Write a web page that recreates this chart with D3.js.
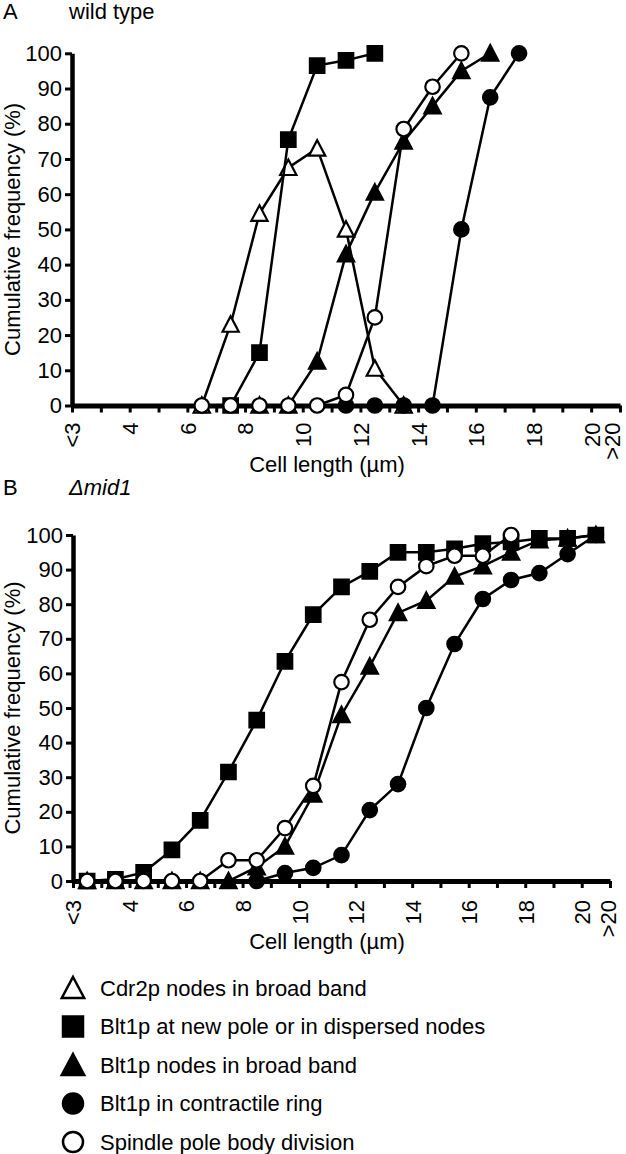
<!DOCTYPE html>
<html><head><meta charset="utf-8">
<script src="https://cdn.jsdelivr.net/npm/d3@7/dist/d3.min.js"></script>
<style>
body{margin:0;background:#fff}
text{font-family:"Liberation Sans",Arial,Helvetica,sans-serif;fill:#000}
</style>
</head><body>
<svg id="chart" width="626" height="1154"></svg>
<script>
// ---------- data ----------
const xTickLabelPos = [2, 4, 6, 8, 10, 12, 14, 16, 18, 20, 21];
const xTickLabels = ["<3", "4", "6", "8", "10", "12", "14", "16", "18", "20", ">20"];
const yTicks = [0, 10, 20, 30, 40, 50, 60, 70, 80, 90, 100];

const seriesNames = [
  "Cdr2p nodes in broad band",
  "Blt1p at new pole or in dispersed nodes",
  "Blt1p nodes in broad band",
  "Blt1p in contractile ring",
  "Spindle pole body division"
];

// Panel A: wild type
const wtCdr2pX = [6.5, 7.5, 8.5, 9.5, 10.5, 11.5, 12.5, 13.5];
const wtCdr2pY = [0, 23, 54.5, 67.5, 73, 50, 10.5, 0];
const wtPoleX = [7.5, 8.5, 9.5, 10.5, 11.5, 12.5];
const wtPoleY = [0, 15, 75.5, 96.5, 98, 100];
const wtBandX = [8.5, 9.5, 10.5, 11.5, 12.5, 13.5, 14.5, 15.5, 16.5];
const wtBandY = [0, 0, 12.5, 43, 60.5, 75, 85, 95, 100];
const wtRingX = [11.5, 12.5, 13.5, 14.5, 15.5, 16.5, 17.5];
const wtRingY = [0, 0, 0, 0, 50, 87.5, 100];
const wtSpbX = [6.5, 7.5, 8.5, 9.5, 10.5, 11.5, 12.5, 13.5, 14.5, 15.5];
const wtSpbY = [0, 0, 0, 0, 0, 3, 25, 78.5, 90.5, 100];

// Panel B: delta mid1
const mid1PoleX = [2.5, 3.5, 4.5, 5.5, 6.5, 7.5, 8.5, 9.5, 10.5, 11.5, 12.5, 13.5, 14.5, 15.5, 16.5, 17.5, 18.5, 19.5, 20.5];
const mid1PoleY = [0, 0.5, 2.5, 9, 17.5, 31.5, 46.5, 63.5, 77, 85, 89.5, 95, 95, 96, 97.5, 98, 99, 99, 100];
const mid1BandX = [2.5, 3.5, 4.5, 5.5, 6.5, 7.5, 8.5, 9.5, 10.5, 11.5, 12.5, 13.5, 14.5, 15.5, 16.5, 17.5, 18.5, 19.5, 20.5];
const mid1BandY = [0, 0, 0, 0, 0, 0, 4, 10, 25, 48, 62, 77.5, 81, 88, 91, 95, 98.5, 99, 100];
const mid1RingX = [8.5, 9.5, 10.5, 11.5, 12.5, 13.5, 14.5, 15.5, 16.5, 17.5, 18.5, 19.5, 20.5];
const mid1RingY = [0, 2.3, 3.8, 7.5, 20.5, 28, 50, 68.5, 81.5, 87, 89, 94.5, 100];
const mid1SpbX = [2.5, 3.5, 4.5, 5.5, 6.5, 7.5, 8.5, 9.5, 10.5, 11.5, 12.5, 13.5, 14.5, 15.5, 16.5, 17.5];
const mid1SpbY = [0, 0, 0, 0, 0, 6, 6, 15.3, 27.5, 57.5, 75.5, 85, 91, 94, 94, 100];

// ---------- styles ----------
const markerStyle = [
  {shape: "triangle", fill: "#fff"},
  {shape: "square", fill: "#000"},
  {shape: "triangle", fill: "#000"},
  {shape: "circle", fill: "#000"},
  {shape: "circle", fill: "#fff"}
];

const svg = d3.select("#chart");
const FS = 22;

function markerPath(shape, s) {
  const p = d3.path();
  if (shape === "square") {
    p.rect(-s / 2, -s / 2, s, s);
  } else if (shape === "circle") {
    p.arc(0, 0, s / 2, 0, Math.PI * 2);
  } else {
    const w = s * 1.12, h = s * 1.0;
    p.moveTo(0, -h / 2 - 1);
    p.lineTo(w / 2, h / 2);
    p.lineTo(-w / 2, h / 2);
    p.closePath();
  }
  return p.toString();
}

function drawPanel(cfg) {
  const x = d3.scaleLinear().domain([2, 21]).range([cfg.left, cfg.right]);
  const y = d3.scaleLinear().domain([0, 100]).range([cfg.bottom, cfg.top]);
  const g = svg.append("g");

  // y axis
  const ya = g.append("g").attr("transform", `translate(${cfg.left},0)`)
    .call(d3.axisLeft(y).tickValues(yTicks).tickSize(7).tickSizeOuter(0).tickPadding(3));
  ya.select(".domain").attr("stroke", "#000").attr("stroke-width", 4.5);
  ya.selectAll(".tick line").attr("stroke", "#000").attr("stroke-width", 3);
  ya.selectAll(".tick text").style("font-size", FS + "px").attr("fill", "#000");

  // x axis
  const labelMap = new Map(xTickLabelPos.map((v, i) => [v, xTickLabels[i]]));
  const xa = g.append("g").attr("transform", `translate(0,${cfg.bottom})`)
    .call(d3.axisBottom(x).tickValues(d3.range(2, 22)).tickSize(7).tickSizeOuter(0)
      .tickFormat(d => labelMap.get(d) || ""));
  xa.select(".domain").attr("stroke", "#000").attr("stroke-width", 5);
  xa.selectAll(".tick line").attr("stroke", "#000").attr("stroke-width", 3);
  xa.selectAll(".tick text")
    .style("font-size", FS + "px")
    .attr("fill", "#000")
    .attr("y", null).attr("x", null).attr("dy", "0.36em")
    .attr("text-anchor", "end")
    .attr("transform", d => `translate(${d === 21 ? cfg.lastShift : 0},${cfg.labelOff}) rotate(-90)`);

  // axis titles
  g.append("text").attr("transform", `translate(${cfg.yLabelX},${(cfg.top + cfg.bottom) / 2}) rotate(-90)`)
    .attr("text-anchor", "middle").attr("dominant-baseline", "central")
    .style("font-size", FS + "px").text("Cumulative frequency (%)");
  g.append("text").attr("x", cfg.xTitleX).attr("y", cfg.xTitleY)
    .attr("text-anchor", "middle").style("font-size", FS + "px").text("Cell length (\u00b5m)");

  // panel letter + title
  g.append("text").attr("x", 3).attr("y", cfg.titleY).style("font-size", FS + "px").text(cfg.letter);
  g.append("text").attr("x", 69).attr("y", cfg.titleY).style("font-size", FS + "px")
    .style("font-style", cfg.italic ? "italic" : "normal").text(cfg.title);

  // series
  const line = d3.line().x(d => x(d[0])).y(d => y(d[1]));
  cfg.series.forEach(s => {
    const pts = s.xs.map((v, i) => [v, s.ys[i]]);
    const st = markerStyle[s.idx];
    g.append("path").attr("d", line(pts)).attr("fill", "none")
      .attr("stroke", "#000").attr("stroke-width", 2.5);
    g.selectAll(null).data(pts).enter().append("path")
      .attr("d", markerPath(st.shape, 14.5))
      .attr("transform", d => `translate(${x(d[0])},${y(d[1])})`)
      .attr("fill", st.fill).attr("stroke", "#000").attr("stroke-width", 2.2);
  });
}

drawPanel({
  left: 72, right: 620, top: 53.3, bottom: 405.5, labelOff: 17, lastShift: -8,
  yLabelX: 12, xTitleX: 327, xTitleY: 472, titleY: 19,
  letter: "A", title: "wild type", italic: false,
  series: [
    {idx: 0, xs: wtCdr2pX, ys: wtCdr2pY},
    {idx: 1, xs: wtPoleX, ys: wtPoleY},
    {idx: 2, xs: wtBandX, ys: wtBandY},
    {idx: 3, xs: wtRingX, ys: wtRingY},
    {idx: 4, xs: wtSpbX, ys: wtSpbY}
  ]
});

drawPanel({
  left: 73, right: 610, top: 535, bottom: 881, labelOff: 19, lastShift: -2,
  yLabelX: 12, xTitleX: 327, xTitleY: 949, titleY: 495,
  letter: "B", title: "\u0394mid1", italic: true,
  series: [
    {idx: 1, xs: mid1PoleX, ys: mid1PoleY},
    {idx: 2, xs: mid1BandX, ys: mid1BandY},
    {idx: 3, xs: mid1RingX, ys: mid1RingY},
    {idx: 4, xs: mid1SpbX, ys: mid1SpbY}
  ]
});

// legend
const legendY = d3.scaleLinear().domain([0, 4]).range([988, 1142]);
const leg = svg.append("g");
seriesNames.forEach((name, i) => {
  const st = markerStyle[i];
  leg.append("path")
    .attr("d", markerPath(st.shape, 20))
    .attr("transform", `translate(73,${legendY(i)})`)
    .attr("fill", st.fill).attr("stroke", "#000").attr("stroke-width", 2.5);
  leg.append("text").attr("x", 100).attr("y", legendY(i)).attr("dy", "0.36em")
    .style("font-size", "22px").text(name);
});
</script>
</body></html>
